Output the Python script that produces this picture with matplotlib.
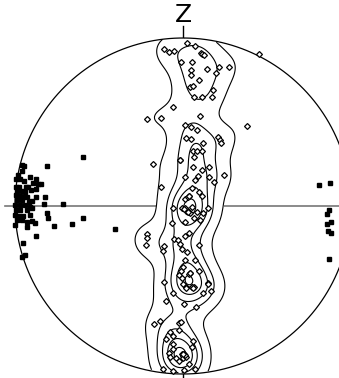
import numpy as np
import matplotlib
matplotlib.use("Agg")
from matplotlib import pyplot as plt

# net radius and open-diamond poles (x, y relative to net centre, y up)
R = 168
dia_x = [-18.7, -13.7, -8.7, 4.3, 12, 18, 19.3, 21.3, -2, 9.3, 8, 24.3, 36.3, 45.7, 33, 8, 16.3, 7, 10.3,
         29.7, 11, 18.7, 29, -10.3, 17.3, -35.7, -22.3, 64, 76.3, 2, 7.7, 13.7, 2.7, 7.7, 20.3, 35.3, 37,
         38, 10.3, 13.7, 19.3, 11, -29.7, 9.7, 19.3, 26, 15.3, 2, 12, 26.3, 31.3, 41, -22.3, 8.7, 16, 19.3,
         2, 25.3, -9.7, -1.3, 3.7, 7, 8.7, 4.7, 13.7, 11, 17, 19.7, -10.7, 2, 5.7, 2, -36.3, -35.7, -37.3,
         -9.3, -5.3, -2.7, -19.3, -20.3, -1, 16, 3.7, 12, 2.3, -0.3, 16.3, -2.3, -4, -1, -0.3, 2.7, 8.7,
         11.3, 19.7, 28.3, -19, -10, -17.3, 1.3, 13, -29.3, -23.3, -4, -1.7, -4.3, -13, -10, -17.3, -10.3,
         9.7, -10.3, -14, 9, -1.3, 0.3, -0.3, 3, -12.7, -7.3, -4, 6.3, -20.3, -9.7, 1, 12,
         # overlapping poles (dark blobs)
         -3, -2.5, 5.7, 5, 6.3, 2, 1, 7, 6, 7.5, 9.3, 10, 3, 25.3, 25, 1.3, 2, 0.5]
dia_y = [156.7, 154.3, 155.3, 162.7, 160, 153.3, 151.7, 150.7, 143.7, 144.3, 136, 137, 138.7, 139.3, 133.3,
         131, 126, 118.7, 120, 116, 109.3, 108.7, 108.7, 98.7, 90.3, 86.7, 88.3, 80.3, 151.7, 81, 79.3, 76,
         67.7, 66.7, 62.7, 68.7, 66, 63.3, 55.3, 55.3, 55.3, 48.7, 42, 38.7, 36, 39.3, 30.3, 29.3, 26, 29.3,
         24, 31, 19.3, 17.7, 13.7, 10, 7.3, -2.3, -2.3, -2.3, -4, -7.3, -0.7, -5.7, -6.3, -12.3, -14, -7.3,
         -16.7, -15.7, -27.3, -30, -28, -32.3, -39, -33, -34, -38, -40, -44.7, -43, -39, -45.7, -54, -54,
         -60.7, -64.7, -64.7, -69.3, -72.3, -78.3, -81.3, -80.7, -81.3, -87.3, -85, -76, -87.3, -94.7, -98,
         -100.7, -118, -115, -116.7, -115.7, -124, -126.3, -129.7, -133, -138, -135, -143.3, -146.7, -140.7,
         -148, -150, -152.3, -151.3, -151.3, -152.3, -155, -158, -163, -164.7, -164, -163,
         45.7, 46.5, 10, 9, 10.5, -2.3, -3, -67.3, -68, -66.5, -81.3, -82, -82.3, -76.7, -77.5, -148.3, -149, -147.5]

# filled-square poles
sq_x = [-100, -136.3, -160.7, -159, -161, -164.7, -153, -147, -167, -163, -159, -150.3, -144.7, -142.3,
        -167.3, -163.7, -157, -154.7, -166.3, -161.3, -158, -152.3, -147, -138, -147, -167, -163, -159.7,
        -156.3, -151.3, -166.3, -161.3, -153.7, -138.7, -120.3, -168, -163, -158, -153, -167, -163, -156.3,
        -151.3, -168, -163.7, -159.7, -153, -136.3, -135.3, -166.3, -161.3, -156.3, -151.3, -148, -168,
        -156.3, -129, -111.3, -99.7, -68, -147, -159.7, -158, -161,
        136.3, 147, 146.3, 144.3, 147.7, 144.3, 145, 148.3, 145.7]
sq_y = [49.3, 39.7, 41, 40, 35.3, 31, 29.3, 27, 26.7, 26.7, 25.3, 22.7, 22.3, 22.3, 19.3, 19.3, 19.3, 19.3,
        15.3, 15.3, 14.3, 16, 16.7, 9.3, 8.7, 11, 10, 9.3, 9.3, 5.3, 6, 6, 4.3, 2, 1.7, 1, 1, 1, -0.7, -4,
        -4, -4, -2.3, -9, -10, -10, -9, -7.3, -11.7, -14, -14, -15.7, -14.7, -17.3, -19, -20.7, -20, -17.7,
        -11.7, -22.7, -29.7, -37.3, -49, -51.3,
        21.3, 22.7, -4, -8, -16, -18.3, -25, -27.3, -53]

fig = plt.figure(figsize=(3.39, 3.78), dpi=100)
ax = fig.add_axes([0, 0, 1, 1])
ax.set_xlim(-183, 156)
ax.set_ylim(-172, 206)
ax.set_aspect("equal")
ax.axis("off")

# E-W line, N and S ticks
ax.plot([-178, 156], [0, 0], color="#777777", lw=1.2, zorder=1)
ax.plot([0, 0], [R, R + 12], color="k", lw=1, zorder=1)
ax.plot([0, 0], [-R, -R - 5], color="k", lw=1, zorder=1)
ax.text(0, R + 11, "Z", ha="center", va="bottom", fontsize=18)

# density of the diamond poles
gx, gy = np.meshgrid(np.linspace(-R, R, 241), np.linspace(-R, R, 241))
px = np.array(dia_x)
py = np.array(dia_y)
s = 13.5
dens = np.zeros_like(gx)
for x0, y0 in zip(px, py):
    dens += np.exp(-((gx - x0) ** 2 + (gy - y0) ** 2) / (2 * s * s))
dens[gx ** 2 + gy ** 2 > R * R] = np.nan
levels = np.r_[2.2, 2.9 * np.arange(2, 7)]
ax.contourf(gx, gy, dens, levels=[levels[0], 1e9], colors="white", zorder=2)
ax.contour(gx, gy, dens, levels=levels, colors="k", linewidths=0.8, zorder=3)

t = np.linspace(0, 2 * np.pi, 400)
ax.plot(R * np.cos(t), R * np.sin(t), color="k", lw=0.9, zorder=3)

ax.plot(dia_x, dia_y, "D", ms=3.0, mfc="white", mec="k", mew=0.9, ls="none", zorder=4)
ax.plot(sq_x, sq_y, "s", ms=3.3, color="k", ls="none", zorder=5)

fig.savefig("out.png", dpi=100)
